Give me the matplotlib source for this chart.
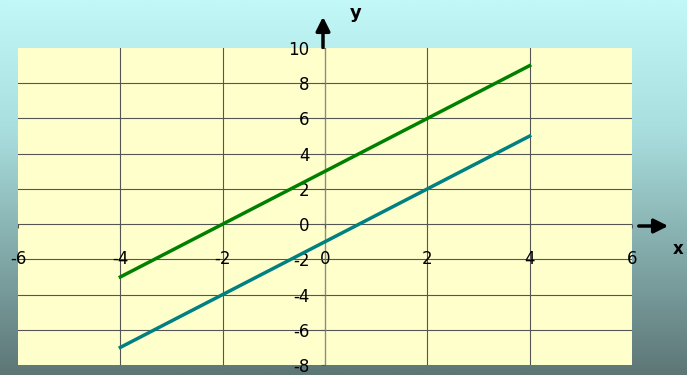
import numpy as np
import matplotlib
matplotlib.use("Agg")
import matplotlib.pyplot as plt
from matplotlib.colors import LinearSegmentedColormap
from matplotlib.patches import FancyArrowPatch

# two parallel lines, slope 1.5, drawn over x in [-4, 4]
x_vals = [-4, 4]
green_y = [-3, 9]
teal_y = [-7, 5]

x_ticks = [-6, -4, -2, 0, 2, 4, 6]
y_ticks = [-8, -6, -4, -2, 0, 2, 4, 6, 8, 10]

W, H = 687, 375
fig = plt.figure(figsize=(W / 100, H / 100), dpi=100)

# slide-style background: light cyan fading to slate
bg = fig.add_axes([0, 0, 1, 1], zorder=0)
cmap = LinearSegmentedColormap.from_list(
    "bg", [(0.0, "#c3f8f8"), (0.35, "#a9dede"), (0.7, "#80a6a6"), (1.0, "#5d7676")])
grad = np.linspace(0, 1, 256).reshape(-1, 1)
bg.imshow(grad, aspect="auto", cmap=cmap, extent=[0, 1, 0, 1])
bg.set_axis_off()

left, right, top, bottom = 18, 632, 48, 365
ax = fig.add_axes([left / W, 1 - bottom / H, (right - left) / W, (bottom - top) / H], zorder=1)
ax.set_facecolor("#ffffcc")
ax.set_xlim(-6, 6)
ax.set_ylim(-8, 10)

for xv in [-4, -2, 2, 4]:
    ax.axvline(xv, color="#555555", lw=0.8, zorder=1)
for yv in [-6, -4, -2, 0, 2, 4, 6, 8]:
    ax.axhline(yv, color="#555555", lw=0.8, zorder=1)
ax.axvline(0, color="#8c8c80", lw=1.0, zorder=1)

ax.plot(x_vals, green_y, color="#008000", lw=2.5, zorder=3)
ax.plot(x_vals, teal_y, color="#008080", lw=2.5, zorder=3)

for s in ax.spines.values():
    s.set_visible(False)
ax.spines["left"].set_position("zero")
ax.spines["bottom"].set_position("zero")

ax.set_xticks(x_ticks)
ax.set_yticks(y_ticks)
ax.set_xticklabels([str(v) for v in x_ticks])
ax.set_yticklabels([str(v) for v in y_ticks])
ax.tick_params(axis="x", direction="out", length=3, pad=16, labelsize=12, color="#555555")
ax.tick_params(axis="y", direction="out", length=3, pad=8, labelsize=12, color="#555555")

# axis arrows and names
style = "-|>,head_length=0.7,head_width=0.35"
fig.add_artist(FancyArrowPatch(
    (323 / W, 1 - 50 / H), (323 / W, 1 - 14 / H), transform=fig.transFigure,
    arrowstyle=style, color="black", lw=2.5, mutation_scale=12, zorder=5))
fig.add_artist(FancyArrowPatch(
    (636 / W, 1 - 226 / H), (671 / W, 1 - 226 / H), transform=fig.transFigure,
    arrowstyle=style, color="black", lw=2.5, mutation_scale=12, zorder=5))
fig.text(356 / W, 1 - 13 / H, "y", fontsize=13, fontweight="bold", ha="center", va="center")
fig.text(678 / W, 1 - 249 / H, "x", fontsize=12, fontweight="bold", ha="center", va="center")

fig.savefig("out.png", dpi=100)
